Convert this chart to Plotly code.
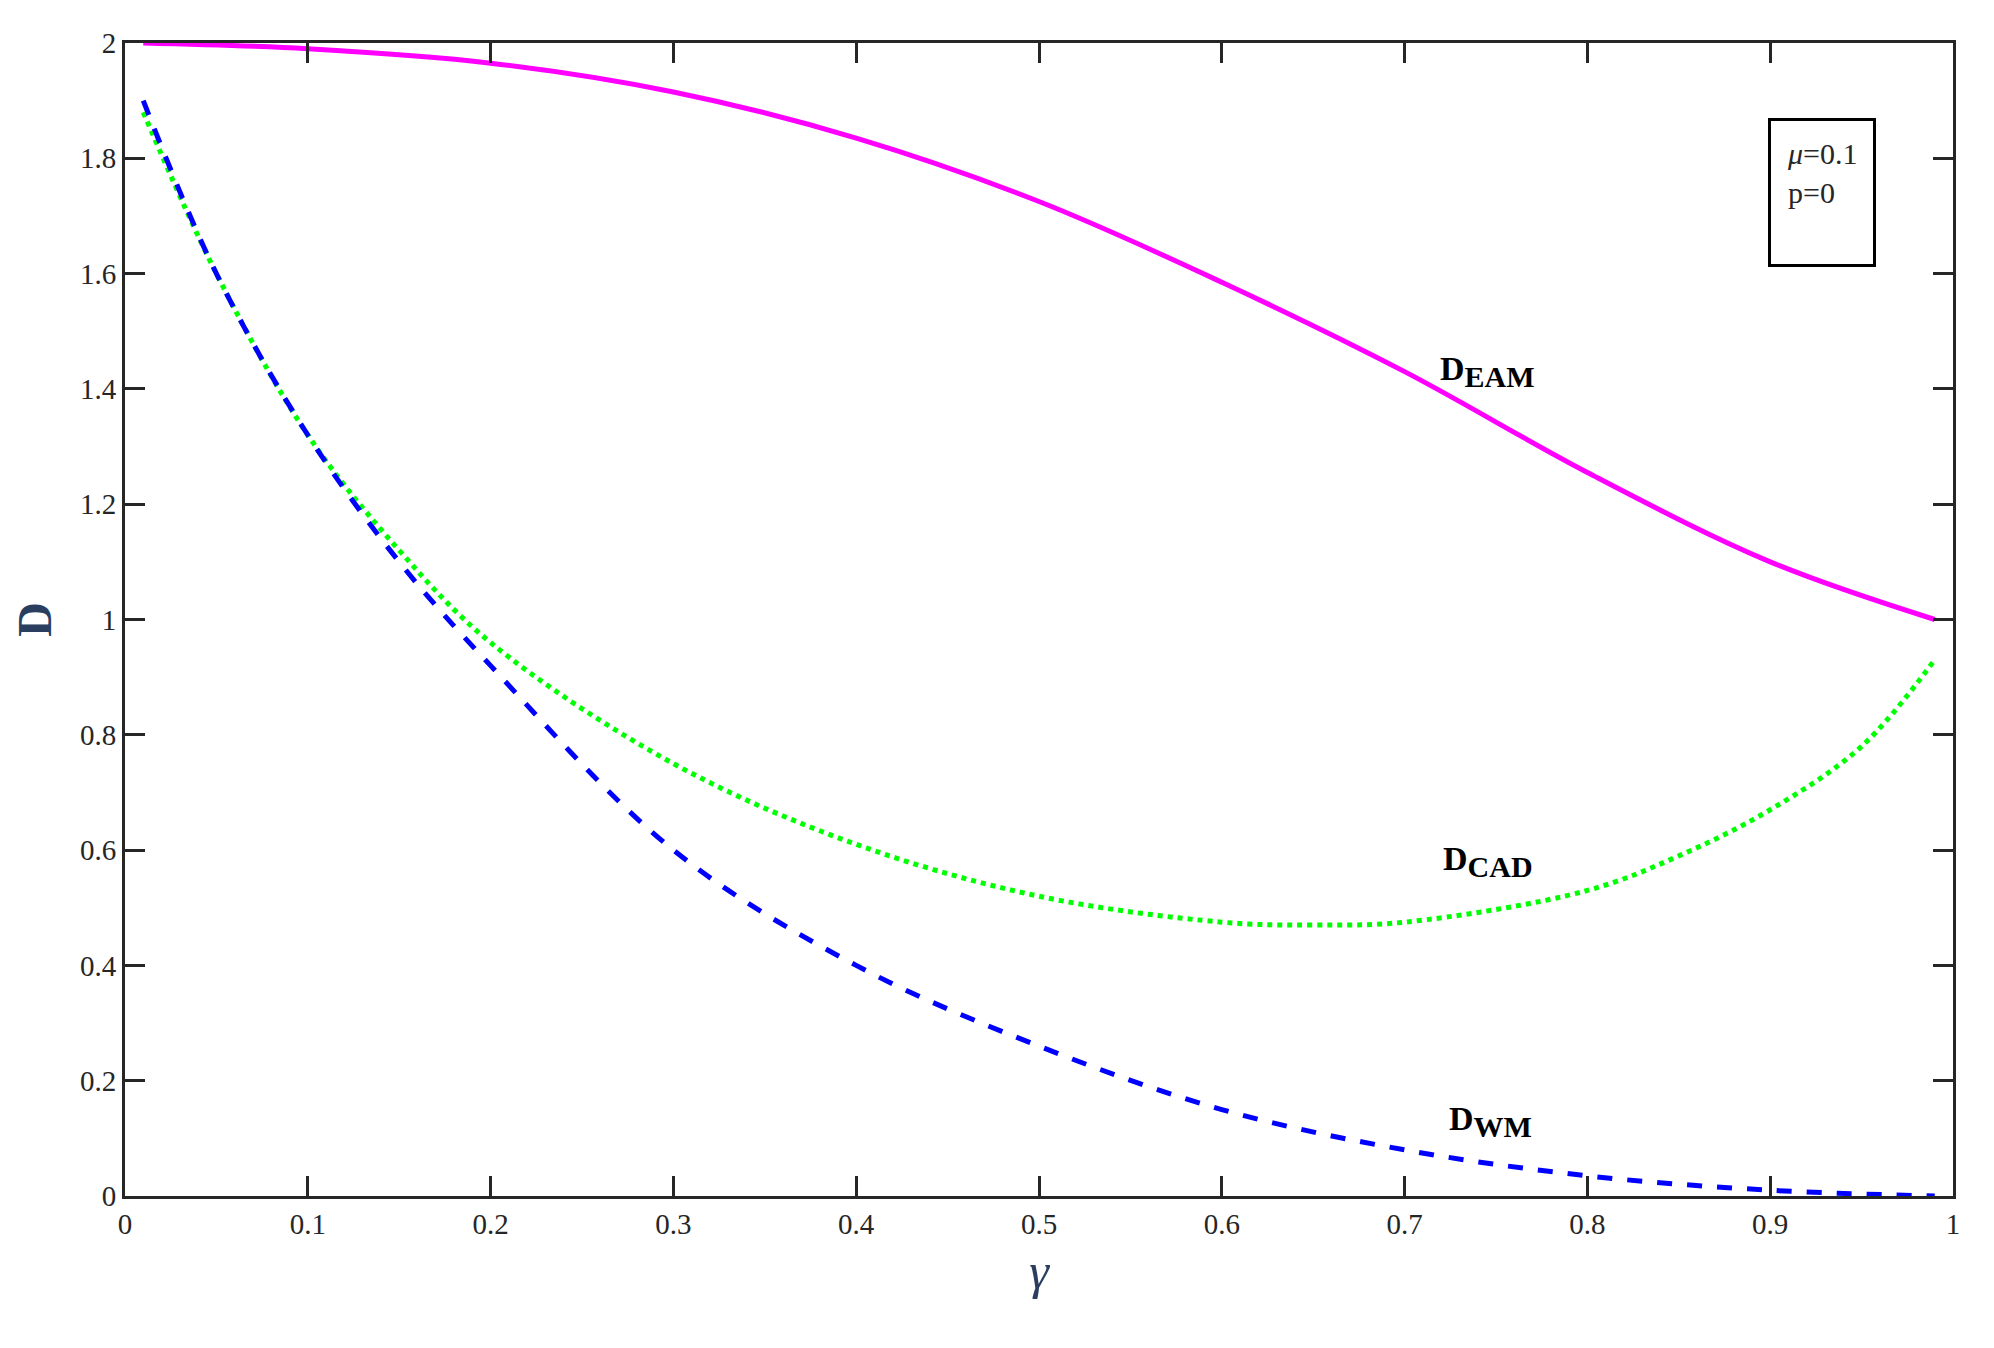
import plotly.graph_objects as go

gamma_eam = [0.01, 0.1, 0.2, 0.3, 0.4, 0.5, 0.6, 0.7, 0.8, 0.9, 0.99]
d_eam = [2.0, 1.99, 1.965, 1.915, 1.835, 1.725, 1.585, 1.43, 1.255, 1.1, 1.0]

gamma_cad = [0.01, 0.05, 0.1, 0.15, 0.2, 0.3, 0.4, 0.5, 0.6, 0.65, 0.7, 0.8, 0.85, 0.9, 0.95, 0.99]
d_cad = [1.88, 1.6, 1.32, 1.12, 0.96, 0.75, 0.61, 0.52, 0.475, 0.47, 0.475, 0.53, 0.59, 0.67, 0.78, 0.93]

gamma_wm = [0.01, 0.05, 0.1, 0.15, 0.2, 0.3, 0.4, 0.5, 0.6, 0.7, 0.8, 0.9, 0.99]
d_wm = [1.9, 1.6, 1.32, 1.1, 0.92, 0.6, 0.4, 0.26, 0.15, 0.08, 0.035, 0.01, 0.0]

font = "Liberation Serif, Times New Roman, serif"
fig = go.Figure()
fig.add_scatter(x=gamma_eam, y=d_eam, mode="lines", line=dict(color="#ff00ff", width=5, shape="spline"))
fig.add_scatter(x=gamma_cad, y=d_cad, mode="lines", line=dict(color="#00ff00", width=5, dash="dot", shape="spline"))
fig.add_scatter(x=gamma_wm, y=d_wm, mode="lines", line=dict(color="#0000ff", width=5, dash="dash", shape="spline"))

labels = [("EAM", 0.718, 1.43), ("CAD", 0.72, 0.58), ("WM", 0.723, 0.13)]
for sub, x, y in labels:
    fig.add_annotation(x=x, y=y, text=f"<b>D<sub><span style='font-size:30px'>{sub}</span></sub></b>",
                       showarrow=False, xanchor="left", font=dict(family=font, size=34, color="black"))

fig.add_annotation(xref="paper", yref="paper", x=0.899, y=0.935, xanchor="left", yanchor="top",
                   text="<i>μ</i>=0.1<br>p=0<br> ", showarrow=False, align="left",
                   bordercolor="black", borderwidth=3, borderpad=16,
                   font=dict(family=font, size=30, color="#262626"))

axis = dict(showline=True, linecolor="#262626", linewidth=3, mirror="allticks", ticks="inside",
            ticklen=20, tickwidth=3, tickcolor="#262626", showgrid=False, zeroline=False,
            tickfont=dict(family=font, size=29, color="#262626"))
fig.update_xaxes(axis, range=[0, 1], dtick=0.1, title=dict(text="<i>γ</i>", font=dict(family=font, size=50)))
fig.update_yaxes(axis, range=[0, 2], dtick=0.2, title=dict(text="<b>D</b>", font=dict(family=font, size=48)),
                 tickvals=[0, 0.2, 0.4, 0.6, 0.8, 1, 1.2, 1.4, 1.6, 1.8, 2],
                 ticktext=["0", "0.2", "0.4", "0.6", "0.8", "1", "1.2", "1.4", "1.6", "1.8", "2"])
fig.update_layout(width=1994, height=1348, plot_bgcolor="white", paper_bgcolor="white",
                  showlegend=False, margin=dict(l=117, r=49, t=35, b=160))
fig.write_html("out.html")
